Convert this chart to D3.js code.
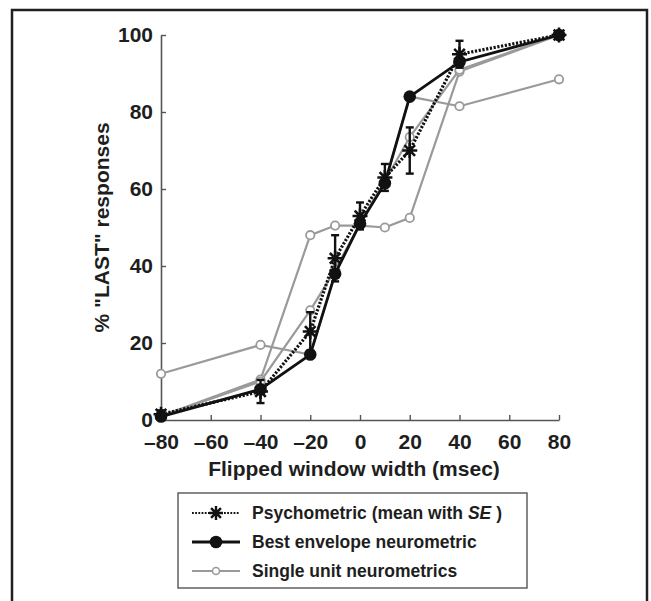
<!DOCTYPE html>
<html>
<head>
<meta charset="utf-8">
<script src="https://cdn.jsdelivr.net/npm/d3@7"></script>
<style>
  html, body { margin: 0; padding: 0; background: #fff; }
  svg { display: block; }
  text { font-family: "Liberation Sans", Arial, Helvetica, sans-serif; font-weight: bold; fill: #1e1e1e; }
</style>
</head>
<body>
<svg id="chart" width="651" height="601"></svg>
<script>
// ---- data ----
const xValues = [-80, -40, -20, -10, 0, 10, 20, 40, 80];
const psychometric = [1.5, 7.4, 23, 42, 53, 63, 70, 95, 100];
const psychSE = [1, 3, 5, 6, 3.5, 3.5, 6, 3.5, 0.5];
const bestEnvelope = [0.9, 8, 17, 38, 51, 61.5, 84, 93, 100];
const unitA = [12, 19.5, 17, 38, 51, 61.5, 84, 81.5, 88.5];
const unitB = [1, 10.5, 48, 50.5, 50.5, 50, 52.5, 90.5, 100];
const unitC = [1, 10, 28.5, 39, 51, 62, 73.5, 91, 100];
const singleUnits = [unitA, unitB, unitC];
const xTicks = [-80, -60, -40, -20, 0, 20, 40, 60, 80];
const yTicks = [0, 20, 40, 60, 80, 100];
const xTitle = "Flipped window width (msec)";
const yTitle = "% \"LAST\" responses";
const legendLabels = ["Psychometric (mean with ", "Best envelope neurometric", "Single unit neurometrics"];

// ---- layout ----
const svg = d3.select("#chart");
const x = d3.scaleLinear().domain([-80, 80]).range([161, 559]);
const y = d3.scaleLinear().domain([0, 100]).range([420, 35]);
const grey = "#9a9a9a";

// outer frame
svg.append("rect").attr("x", 12).attr("y", 10).attr("width", 635).attr("height", 640)
  .attr("fill", "none").attr("stroke", "#231f20").attr("stroke-width", 2.5);

// axes
const xAxis = d3.axisBottom(x).tickValues(xTicks).tickSizeInner(-5).tickSizeOuter(0)
  .tickFormat(d => d < 0 ? "\u2013" + Math.abs(d) : d);
const gx = svg.append("g").attr("transform", `translate(0,${y(0)})`).call(xAxis);
const yAxis = d3.axisLeft(y).tickValues(yTicks).tickSizeInner(-5).tickSizeOuter(0);
const gy = svg.append("g").attr("transform", `translate(${x(-80)},0)`).call(yAxis);
[gx, gy].forEach(g => {
  g.select(".domain").attr("stroke", "#555").attr("stroke-width", 1.6);
  g.selectAll(".tick line").attr("stroke", "#555").attr("stroke-width", 1.4);
  g.selectAll(".tick text").attr("font-size", 21).attr("font-family", "Liberation Sans, Arial, sans-serif")
    .attr("font-weight", "bold").attr("fill", "#1e1e1e");
});
gx.selectAll(".tick text").attr("dy", null).attr("y", 29);
gy.selectAll(".tick text").attr("x", -8).attr("dy", "0.3em");

// titles
svg.append("text").attr("x", 354).attr("y", 476).attr("text-anchor", "middle")
  .attr("font-size", 21).text(xTitle);
svg.append("text").attr("transform", `translate(109,${(y(0) + y(100)) / 2}) rotate(-90)`)
  .attr("text-anchor", "middle").attr("font-size", 21).text(yTitle);

const line = d3.line().x((d, i) => x(xValues[i])).y(d => y(d));

// single unit neurometrics
singleUnits.forEach(u => {
  svg.append("path").attr("d", line(u)).attr("fill", "none")
    .attr("stroke", grey).attr("stroke-width", 2.2);
});
singleUnits.forEach(u => {
  svg.append("g").selectAll("circle").data(u).join("circle")
    .attr("cx", (d, i) => x(xValues[i])).attr("cy", d => y(d)).attr("r", 4.2)
    .attr("fill", "#fff").attr("stroke", grey).attr("stroke-width", 1.8);
});

// asterisk path
function asterisk(cx, cy, r) {
  let p = "";
  for (let k = 0; k < 4; k++) {
    const a = k * Math.PI / 4;
    const dx = r * Math.cos(a), dy = r * Math.sin(a);
    p += `M${cx - dx},${cy - dy}L${cx + dx},${cy + dy}`;
  }
  return p;
}

// psychometric
svg.append("path").attr("d", line(psychometric)).attr("fill", "none")
  .attr("stroke", "#111").attr("stroke-width", 3.2).attr("stroke-dasharray", "2.2,1.6");
const eb = svg.append("g");
psychometric.forEach((v, i) => {
  const cx = x(xValues[i]);
  const y1 = y(v + psychSE[i]), y2 = y(v - psychSE[i]);
  eb.append("line").attr("x1", cx).attr("x2", cx).attr("y1", y1).attr("y2", y2)
    .attr("stroke", "#111").attr("stroke-width", 2.4);
  [y1, y2].forEach(yy => eb.append("line").attr("x1", cx - 4).attr("x2", cx + 4)
    .attr("y1", yy).attr("y2", yy).attr("stroke", "#111").attr("stroke-width", 2.4));
  eb.append("path").attr("d", asterisk(cx, y(v), 7.5)).attr("stroke", "#111").attr("stroke-width", 2.6);
});

// best envelope
svg.append("path").attr("d", line(bestEnvelope)).attr("fill", "none")
  .attr("stroke", "#111").attr("stroke-width", 2.8);
svg.append("g").selectAll("circle").data(bestEnvelope).join("circle")
  .attr("cx", (d, i) => x(xValues[i])).attr("cy", d => y(d)).attr("r", 6.3).attr("fill", "#111");

// legend
const lg = svg.append("g");
lg.append("rect").attr("x", 178).attr("y", 493).attr("width", 349).attr("height", 95)
  .attr("fill", "#fff").attr("stroke", "#555").attr("stroke-width", 1.4);
const rowY = [513, 542, 571];
const sx1 = 192, sx2 = 240, sm = 216, tx = 252;
// row 1
lg.append("line").attr("x1", sx1).attr("x2", sx2).attr("y1", rowY[0]).attr("y2", rowY[0])
  .attr("stroke", "#111").attr("stroke-width", 2.2).attr("stroke-dasharray", "1.8,1.4");
lg.append("path").attr("d", asterisk(sm, rowY[0], 7)).attr("stroke", "#111").attr("stroke-width", 2.4);
const t1 = lg.append("text").attr("x", tx).attr("y", rowY[0]).attr("dy", "0.36em").attr("font-size", 17.5);
t1.append("tspan").text(legendLabels[0]);
t1.append("tspan").attr("font-style", "italic").text("SE");
t1.append("tspan").text(" )");
// row 2
lg.append("line").attr("x1", sx1).attr("x2", sx2).attr("y1", rowY[1]).attr("y2", rowY[1])
  .attr("stroke", "#111").attr("stroke-width", 2.8);
lg.append("circle").attr("cx", sm).attr("cy", rowY[1]).attr("r", 6.3).attr("fill", "#111");
lg.append("text").attr("x", tx).attr("y", rowY[1]).attr("dy", "0.36em").attr("font-size", 17.5).text(legendLabels[1]);
// row 3
lg.append("line").attr("x1", sx1).attr("x2", sx2).attr("y1", rowY[2]).attr("y2", rowY[2])
  .attr("stroke", grey).attr("stroke-width", 2.2);
lg.append("circle").attr("cx", sm).attr("cy", rowY[2]).attr("r", 3.5)
  .attr("fill", "#fff").attr("stroke", grey).attr("stroke-width", 1.6);
lg.append("text").attr("x", tx).attr("y", rowY[2]).attr("dy", "0.36em").attr("font-size", 17.5).text(legendLabels[2]);
</script>
</body>
</html>
